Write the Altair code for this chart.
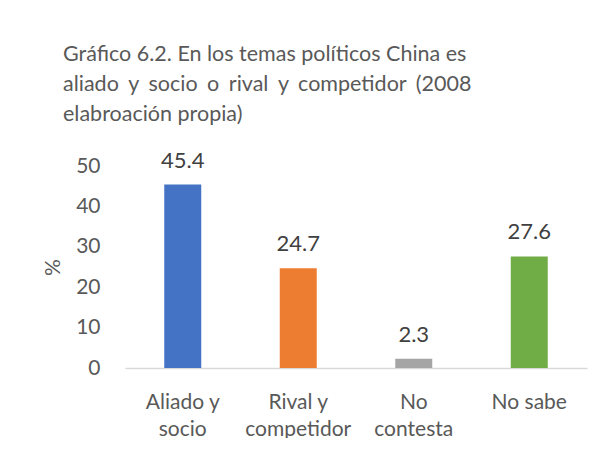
import altair as alt
import pandas as pd

categories = ["Aliado y socio", "Rival y competidor", "No contesta", "No sabe"]
label_lines = [["Aliado y", "socio"], ["Rival y", "competidor"], ["No", "contesta"], ["No sabe"]]
values = [45.4, 24.7, 2.3, 27.6]
colors = ["#4472C4", "#ED7D31", "#A5A5A5", "#70AD47"]
y_ticks = [0, 10, 20, 30, 40, 50]
GAP = "\u00a0\u2009\u200a"
title_lines = [
    "Gráfico 6.2. En los temas políticos China es",
    GAP.join(["aliado", "y", "socio", "o", "rival", "y", "competidor", "(2008"]),
    "elabroación propia)",
]
y_title = "%"

df = pd.DataFrame({
    "cat": categories,
    "val": values,
    "label": [f"{v:.1f}" for v in values],
})

expr = "''"
for cat, lines in reversed(list(zip(categories, label_lines))):
    arr = "[" + ",".join("'" + l + "'" for l in lines) + "]"
    expr = f"datum.label == '{cat}' ? {arr} : ({expr})"

FONT = "Lato"
TXT = "#595959"

x_enc = alt.X(
    "cat:N", sort=categories, title=None,
    axis=alt.Axis(
        labelExpr=expr, labelAngle=0, labelFont=FONT, labelFontSize=21,
        labelColor=TXT, labelLineHeight=27, labelPadding=23,
        ticks=False, tickSize=0, domainColor="#D9D9D9", domainWidth=1.5,
        grid=False,
    ),
)
y_enc = alt.Y(
    "val:Q", scale=alt.Scale(domain=[0, 50]), title=y_title,
    axis=alt.Axis(
        values=y_ticks, labelFont=FONT, labelFontSize=21, labelColor=TXT,
        labelPadding=25, ticks=False, tickSize=0, domain=False, grid=False,
        titleFont=FONT, titleFontSize=21, titleColor=TXT, titleFontWeight="normal",
        titleX=-62, titleY=101, titleAngle=-90,
    ),
)

bars = alt.Chart(df).mark_bar(size=37).encode(
    x=x_enc, y=y_enc,
    color=alt.Color("cat:N", scale=alt.Scale(domain=categories, range=colors), legend=None),
)
texts = alt.Chart(df).mark_text(
    baseline="alphabetic", dy=-17, font=FONT, fontSize=22, color="#404040"
).encode(x=alt.X("cat:N", sort=categories), y="val:Q", text="label:N")

chart = alt.layer(bars, texts).properties(
    width=462, height=202,
    autosize=alt.AutoSizeParams(type="none"),
    padding={"left": 117, "top": 158, "right": 8, "bottom": 70},
    title=alt.TitleParams(
        text=title_lines, anchor="start", frame="group", dx=-62,
        font=FONT, fontSize=21.5, fontWeight="normal", color=TXT,
        lineHeight=30, offset=24,
    ),
).configure(background="white").configure_view(stroke=None)

chart.save("out.html", embed_options={"renderer": "svg", "actions": False})
